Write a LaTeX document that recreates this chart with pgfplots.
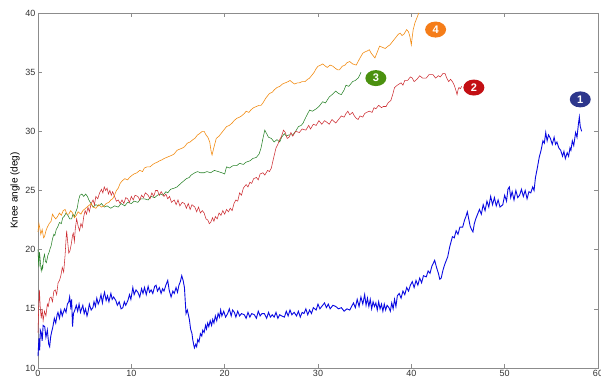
\documentclass[border=0pt]{standalone}
\usepackage{pgfplots}
\pgfplotsset{compat=1.18}
\usetikzlibrary{shapes.geometric}
\usepackage{fontspec}
\setmainfont{Liberation Sans}
\definecolor{cblue}{RGB}{10,10,225}
\definecolor{cred}{RGB}{205,45,50}
\definecolor{cgreen}{RGB}{40,130,40}
\definecolor{corange}{RGB}{242,140,20}
\definecolor{lblue}{RGB}{45,55,140}
\definecolor{lred}{RGB}{195,15,20}
\definecolor{lgreen}{RGB}{75,145,15}
\definecolor{lorange}{RGB}{245,125,25}
\definecolor{axgray}{RGB}{140,140,140}
\begin{document}
\begin{tikzpicture}
\begin{axis}[
  scale only axis, width=560pt, height=355pt,
  xmin=0, xmax=60, ymin=10, ymax=40,
  xtick={0,10,...,60}, ytick={10,15,...,40},
  tick align=inside, major tick length=4pt,
  axis line style={axgray, line width=0.8pt},
  tick style={axgray, line width=0.6pt},
  /pgf/number format/assume math mode=true,
  tick label style={font=\fontsize{9}{10}\selectfont, text=black!80},
  ylabel={Knee angle (deg)},
  ylabel style={font=\fontsize{10}{12}\selectfont, at={(axis description cs:-0.041,0.5)}, anchor=center, rotate=0},
  xticklabel style={yshift=1pt},
  yticklabel style={xshift=1pt},
  clip=false,
]
\addplot[cblue, line width=0.9pt] coordinates {
(0,11.0)(0.1,12.5)(0.18,11.5)(0.25,13.2)(0.35,13.0)(0.45,12.3)(0.55,13.6)(0.72,13.5)(0.85,12.6)(1.0,13.2)(1.15,12.0)(1.25,11.8)(1.35,12.6)(1.45,13.0)(1.6,13.5)(1.75,14.2)(1.9,13.8)(2.05,14.5)(2.14,14.7)(2.3,14.2)(2.45,14.9)(2.6,14.4)(2.67,14.6)(2.85,15.0)(3.0,14.7)(3.15,15.4)(3.3,15.6)(3.39,16.0)(3.5,15.2)(3.6,15.8)(3.7,13.5)(3.8,14.6)(3.95,14.9)(4.1,15.3)(4.25,14.8)(4.4,15.4)(4.55,14.7)(4.63,14.9)(4.8,15.3)(4.95,14.6)(5.1,15.0)(5.25,14.4)(5.35,14.7)(5.5,15.4)(5.7,14.9)(5.88,15.1)(6.0,15.6)(6.15,15.2)(6.3,15.9)(6.45,15.4)(6.6,15.7)(6.75,16.2)(6.9,15.5)(7.0,16.0)(7.13,16.4)(7.3,15.7)(7.45,16.1)(7.6,15.6)(7.81,16.3)(7.95,15.8)(8.1,16.0)(8.34,15.7)(8.5,15.3)(8.7,15.6)(8.9,15.0)(9.09,15.1)(9.25,15.6)(9.4,15.3)(9.63,15.7)(9.8,16.2)(9.95,15.8)(10.16,16.8)(10.3,16.2)(10.5,16.6)(10.7,16.4)(10.9,16.0)(11.1,16.7)(11.25,16.3)(11.41,16.8)(11.6,16.2)(11.8,16.9)(11.95,16.4)(12.12,16.6)(12.3,16.3)(12.5,16.9)(12.65,17.0)(12.8,16.5)(13.0,16.8)(13.19,16.3)(13.35,16.7)(13.5,16.5)(13.7,17.0)(13.9,17.4)(14.05,16.6)(14.26,16.0)(14.45,16.5)(14.6,16.3)(14.79,16.8)(14.95,16.4)(15.1,17.0)(15.25,17.3)(15.4,17.8)(15.55,17.4)(15.69,16.8)(15.78,15.6)(15.86,14.6)(16.0,14.9)(16.22,14.1)(16.35,13.3)(16.5,12.9)(16.58,12.4)(16.7,11.9)(16.76,11.7)(16.9,12.0)(17.0,11.8)(17.11,12.4)(17.25,12.2)(17.4,12.9)(17.55,12.7)(17.65,13.2)(17.8,13.0)(17.95,13.6)(18.05,13.3)(18.18,13.8)(18.3,13.5)(18.45,14.0)(18.6,13.6)(18.72,14.1)(18.85,13.8)(19.0,14.4)(19.15,14.0)(19.3,14.6)(19.45,14.3)(19.57,14.9)(19.7,14.4)(19.9,14.8)(20.1,14.3)(20.32,14.6)(20.5,15.0)(20.7,14.4)(20.85,14.9)(21.04,14.7)(21.2,14.3)(21.4,14.8)(21.6,14.4)(21.8,14.6)(22.1,14.5)(22.3,14.2)(22.5,14.7)(22.7,14.3)(22.9,14.6)(23.18,14.5)(23.4,14.2)(23.6,14.8)(23.8,14.4)(24.0,14.6)(24.25,14.6)(24.5,14.2)(24.7,14.7)(24.9,14.3)(25.1,14.5)(25.3,14.3)(25.5,14.7)(25.7,14.2)(25.9,14.5)(26.1,14.4)(26.4,14.3)(26.6,14.8)(26.8,14.4)(27.0,14.9)(27.2,14.5)(27.45,14.7)(27.7,14.4)(27.9,14.8)(28.1,14.3)(28.3,14.7)(28.5,14.6)(28.7,15.0)(28.9,14.5)(29.1,14.9)(29.3,14.6)(29.5,15.1)(29.8,14.9)(30.0,15.4)(30.2,15.0)(30.5,15.3)(30.7,15.5)(30.9,15.1)(31.1,15.4)(31.3,15.0)(31.6,15.3)(31.9,15.2)(32.2,15.0)(32.5,15.1)(32.8,14.8)(33.1,15.0)(33.4,14.9)(33.6,15.2)(33.8,15.5)(34.0,15.1)(34.2,15.8)(34.4,15.2)(34.6,16.0)(34.8,15.4)(35.0,16.2)(35.15,15.3)(35.3,15.9)(35.45,15.2)(35.6,15.8)(35.75,15.0)(35.9,15.6)(36.05,15.2)(36.2,15.5)(36.35,14.9)(36.5,15.6)(36.65,15.0)(36.8,15.4)(36.95,14.8)(37.1,15.4)(37.25,14.9)(37.4,15.3)(37.6,15.1)(37.75,14.8)(37.9,15.5)(38.05,15.0)(38.2,15.8)(38.35,15.2)(38.5,16.1)(38.7,16.3)(38.9,15.9)(39.1,16.5)(39.3,16.2)(39.5,16.8)(39.7,16.5)(39.9,17.0)(40.1,17.3)(40.3,16.8)(40.5,17.4)(40.7,17.0)(40.9,17.6)(41.1,17.2)(41.3,17.8)(41.6,17.7)(41.8,18.2)(42.0,18.0)(42.2,18.6)(42.5,19.1)(42.7,18.5)(42.9,18.0)(43.05,17.5)(43.2,17.6)(43.4,18.3)(43.6,18.8)(43.9,19.4)(44.1,20.2)(44.4,21.1)(44.6,21.0)(44.8,21.6)(45.0,21.3)(45.2,21.9)(45.5,21.9)(45.7,22.5)(45.85,22.8)(46.0,23.2)(46.15,22.6)(46.3,22.0)(46.45,21.7)(46.6,21.5)(46.75,22.2)(46.9,22.6)(47.1,23.0)(47.3,23.4)(47.5,23.0)(47.7,23.8)(47.9,23.3)(48.1,24.1)(48.3,23.6)(48.5,24.5)(48.7,23.8)(48.9,24.4)(49.1,23.7)(49.3,24.2)(49.5,23.6)(49.8,23.8)(50.0,24.6)(50.2,24.1)(50.35,25.1)(50.5,25.3)(50.65,24.4)(50.8,24.9)(51.0,24.2)(51.2,25.0)(51.4,24.4)(51.6,24.6)(51.8,25.1)(52.0,24.5)(52.2,25.0)(52.4,24.3)(52.6,24.9)(52.8,24.8)(53.0,25.3)(53.15,25.0)(53.3,26.1)(53.5,26.9)(53.7,27.8)(53.9,28.4)(54.1,29.2)(54.25,29.0)(54.4,29.9)(54.55,29.2)(54.7,29.7)(54.9,29.4)(55.1,28.9)(55.3,29.5)(55.45,28.9)(55.6,29.1)(55.8,28.6)(56.0,28.4)(56.2,27.9)(56.35,28.3)(56.5,27.7)(56.7,28.2)(56.85,27.9)(57.0,28.6)(57.1,28.4)(57.25,29.2)(57.4,28.8)(57.6,29.9)(57.75,29.5)(57.9,30.6)(58.0,31.2)(58.1,30.4)(58.25,30.0)
};
\addplot[cgreen, line width=0.55pt] coordinates {
(0,20.0)(0.05,19.0)(0.1,18.5)(0.15,19.8)(0.2,19.5)(0.28,18.7)(0.35,18.2)(0.45,18.6)(0.5,18.4)(0.6,19.3)(0.7,19.6)(0.8,19.0)(0.9,18.9)(1.05,19.5)(1.2,19.8)(1.3,20.1)(1.4,20.3)(1.55,20.9)(1.7,21.3)(1.8,21.2)(1.95,21.7)(2.1,21.9)(2.3,22.3)(2.5,22.2)(2.65,22.7)(2.8,22.8)(3.0,23.1)(3.2,22.9)(3.4,22.6)(3.6,22.6)(3.75,23.0)(3.9,22.8)(4.05,23.2)(4.2,23.5)(4.35,24.2)(4.5,24.6)(4.7,24.7)(4.9,24.5)(5.1,24.7)(5.3,24.5)(5.45,24.2)(5.6,24.0)(5.75,23.8)(5.9,23.6)(6.2,23.8)(6.5,23.7)(6.8,23.9)(7.1,23.6)(7.4,23.7)(7.8,23.5)(8.2,23.7)(8.6,23.6)(8.9,23.9)(9.3,23.7)(9.6,24.0)(10.0,23.9)(10.3,24.1)(10.7,24.0)(11.0,24.3)(11.4,24.3)(11.8,24.2)(12.1,24.5)(12.5,24.4)(12.8,24.6)(13.1,24.7)(13.4,24.6)(13.7,24.9)(13.9,24.8)(14.2,25.1)(14.6,25.2)(14.9,25.3)(15.3,25.6)(15.6,25.8)(15.9,26.0)(16.2,26.1)(16.4,26.3)(16.8,26.5)(17.1,26.6)(17.4,26.5)(17.8,26.5)(18.1,26.6)(18.5,26.5)(18.9,26.7)(19.3,26.6)(19.7,26.5)(20.0,26.4)(20.2,27.0)(20.5,26.9)(20.9,27.1)(21.3,27.1)(21.6,27.3)(22.0,27.2)(22.3,27.4)(22.7,27.5)(23.0,27.7)(23.4,27.8)(23.7,28.1)(23.9,28.6)(24.1,29.4)(24.3,30.1)(24.5,29.8)(24.7,29.5)(25.0,29.4)(25.3,29.1)(25.6,29.3)(25.9,29.1)(26.1,29.5)(26.4,29.8)(26.6,29.6)(26.9,29.7)(27.3,29.7)(27.6,30.0)(27.9,30.4)(28.2,30.5)(28.4,30.7)(28.7,31.2)(28.9,31.5)(29.1,31.8)(29.4,31.7)(29.8,31.9)(30.1,32.1)(30.5,32.5)(30.8,32.4)(31.2,32.9)(31.5,33.1)(31.9,33.4)(32.2,33.2)(32.5,33.1)(32.8,33.5)(33.0,33.9)(33.3,33.8)(33.7,34.2)(34.0,34.3)(34.3,34.5)(34.5,34.8)(34.6,35.0)
};
\addplot[cred, line width=0.55pt] coordinates {
(0,13.0)(0.08,15.2)(0.15,16.6)(0.25,15.0)(0.35,14.2)(0.45,15.0)(0.55,14.0)(0.7,14.8)(0.85,14.4)(1.0,15.4)(1.1,15.2)(1.25,15.9)(1.4,16.0)(1.55,15.6)(1.7,16.5)(1.85,16.6)(2.0,16.2)(2.15,17.2)(2.3,17.4)(2.45,17.8)(2.6,18.5)(2.75,18.1)(2.9,19.5)(3.0,20.8)(3.07,21.6)(3.2,20.5)(3.3,19.7)(3.42,19.9)(3.55,20.4)(3.7,21.2)(3.78,21.4)(3.9,20.7)(4.0,21.8)(4.14,22.6)(4.3,22.0)(4.45,21.6)(4.6,22.2)(4.75,21.9)(4.9,22.8)(5.05,23.3)(5.2,23.0)(5.35,23.6)(5.5,23.2)(5.7,23.9)(5.9,24.2)(6.05,23.8)(6.2,24.5)(6.4,24.3)(6.6,24.8)(6.8,25.1)(6.95,24.8)(7.1,25.3)(7.25,25.0)(7.4,25.2)(7.55,24.7)(7.7,25.0)(7.85,24.6)(8.0,24.9)(8.2,24.5)(8.4,24.1)(8.6,24.2)(8.8,23.9)(9.0,24.2)(9.2,23.9)(9.4,24.4)(9.6,24.3)(9.8,24.0)(10.0,24.5)(10.2,24.2)(10.4,24.6)(10.7,24.5)(10.9,24.2)(11.1,24.6)(11.3,24.4)(11.5,24.8)(11.8,24.6)(12.0,24.3)(12.2,24.8)(12.4,24.5)(12.6,25.0)(12.8,25.0)(13.0,24.6)(13.2,24.9)(13.5,24.5)(13.7,24.7)(13.9,24.3)(14.1,24.5)(14.3,24.0)(14.6,24.2)(14.8,23.8)(15.0,24.2)(15.2,23.7)(15.45,24.0)(15.7,23.9)(15.9,23.5)(16.1,23.9)(16.3,23.4)(16.5,23.8)(16.8,23.6)(17.0,23.2)(17.2,23.6)(17.4,23.1)(17.6,23.3)(17.8,23.1)(18.0,22.6)(18.2,22.5)(18.35,22.2)(18.5,22.3)(18.7,22.7)(18.85,22.4)(19.0,22.8)(19.2,22.6)(19.4,23.1)(19.6,22.9)(19.8,23.3)(20.0,23.0)(20.2,23.4)(20.4,23.2)(20.6,23.5)(20.8,23.3)(21.0,23.9)(21.2,24.2)(21.4,24.1)(21.6,24.8)(21.8,24.6)(22.0,25.2)(22.3,25.5)(22.5,25.3)(22.7,25.7)(22.9,25.6)(23.1,26.0)(23.4,26.1)(23.6,25.9)(23.8,26.4)(24.1,26.5)(24.3,26.3)(24.6,26.7)(24.8,26.6)(25.0,26.9)(25.2,27.6)(25.35,28.1)(25.5,28.6)(25.7,28.9)(25.9,29.3)(26.1,29.6)(26.3,30.1)(26.5,29.9)(26.7,29.4)(26.9,29.5)(27.1,29.9)(27.3,29.6)(27.6,30.0)(28.0,29.9)(28.3,30.2)(28.7,30.1)(29.0,30.5)(29.2,30.2)(29.5,30.6)(29.8,30.5)(30.1,30.9)(30.4,30.6)(30.7,30.9)(30.9,30.8)(31.2,30.6)(31.5,31.0)(31.9,30.7)(32.2,31.0)(32.5,31.3)(32.8,31.2)(33.0,31.5)(33.2,31.7)(33.4,31.4)(33.7,31.6)(33.9,31.3)(34.1,31.1)(34.3,31.0)(34.5,31.3)(34.8,31.2)(35.0,31.5)(35.2,31.6)(35.5,31.7)(35.8,31.6)(36.0,32.0)(36.2,31.9)(36.5,32.2)(36.8,32.0)(37.0,32.1)(37.3,32.1)(37.5,32.4)(37.8,32.6)(38.0,33.1)(38.2,33.7)(38.5,33.9)(38.9,34.1)(39.1,33.9)(39.3,34.3)(39.6,34.3)(39.9,34.6)(40.1,34.5)(40.3,34.2)(40.6,34.4)(40.9,34.7)(41.2,34.5)(41.6,34.5)(41.9,34.8)(42.3,34.8)(42.6,34.5)(42.9,34.7)(43.1,34.6)(43.4,34.9)(43.6,34.9)(43.8,34.5)(44.0,34.2)(44.2,34.4)(44.4,34.2)(44.6,33.9)(44.8,33.4)(44.9,33.1)(45.0,33.5)(45.1,33.7)(45.25,33.6)(45.4,33.8)
};
\addplot[corange, line width=0.6pt] coordinates {
(0,21.5)(0.1,22.2)(0.2,21.8)(0.3,21.3)(0.45,21.7)(0.6,21.0)(0.7,21.1)(0.85,21.6)(1.0,21.9)(1.2,22.2)(1.4,22.4)(1.55,23.0)(1.7,22.8)(1.9,22.6)(2.1,22.8)(2.3,23.1)(2.5,22.9)(2.7,23.3)(2.9,23.4)(3.1,23.0)(3.3,23.0)(3.5,23.3)(3.7,23.1)(3.9,22.7)(4.1,22.9)(4.3,23.2)(4.6,23.0)(4.8,23.3)(5.1,23.5)(5.4,23.7)(5.7,23.9)(5.9,23.6)(6.2,23.5)(6.5,23.8)(6.8,23.6)(7.1,23.7)(7.3,23.9)(7.6,24.0)(7.8,24.2)(8.0,24.3)(8.2,24.6)(8.4,25.0)(8.6,25.2)(8.8,25.6)(9.0,25.8)(9.3,26.0)(9.6,25.9)(9.8,26.1)(10.1,26.3)(10.3,26.4)(10.6,26.5)(10.9,26.7)(11.2,26.6)(11.4,26.9)(11.7,27.0)(12.0,27.0)(12.3,27.2)(12.5,27.3)(12.8,27.4)(13.0,27.5)(13.3,27.6)(13.5,27.7)(13.8,27.8)(14.1,27.9)(14.4,28.0)(14.6,28.1)(14.9,28.4)(15.2,28.5)(15.5,28.6)(15.7,28.7)(16.0,29.0)(16.3,29.1)(16.6,29.3)(16.8,29.4)(17.1,29.7)(17.3,29.8)(17.6,30.0)(17.8,30.0)(18.0,29.7)(18.2,29.5)(18.4,29.1)(18.55,28.3)(18.65,28.0)(18.8,28.5)(19.0,29.1)(19.1,29.4)(19.4,29.6)(19.6,29.8)(19.9,30.1)(20.2,30.4)(20.5,30.5)(20.8,30.7)(21.0,30.9)(21.3,31.1)(21.6,31.2)(21.8,31.3)(22.1,31.5)(22.3,31.7)(22.6,31.6)(22.8,31.8)(23.1,32.0)(23.4,32.1)(23.7,32.2)(23.9,32.2)(24.1,32.4)(24.4,32.8)(24.6,33.0)(24.8,33.2)(25.1,33.3)(25.3,33.5)(25.6,33.7)(25.9,33.8)(26.2,34.0)(26.5,34.1)(26.8,34.2)(27.0,34.3)(27.3,34.1)(27.5,34.0)(27.8,34.1)(28.0,34.1)(28.3,34.2)(28.6,34.2)(28.9,34.4)(29.1,34.5)(29.4,34.8)(29.6,35.0)(29.8,35.3)(30.0,35.5)(30.3,35.6)(30.5,35.7)(30.8,35.5)(31.0,35.4)(31.3,35.6)(31.6,35.5)(31.9,35.3)(32.1,35.2)(32.3,35.2)(32.6,35.5)(32.9,35.6)(33.1,35.8)(33.4,35.9)(33.7,35.7)(34.1,35.6)(34.3,35.9)(34.5,36.2)(34.8,36.6)(35.0,36.7)(35.3,36.8)(35.5,36.9)(35.7,36.6)(35.9,36.4)(36.1,36.2)(36.3,36.6)(36.6,37.2)(36.9,37.1)(37.2,37.0)(37.5,37.2)(37.7,37.3)(38.0,37.6)(38.3,37.9)(38.6,38.2)(38.8,38.3)(39.0,38.1)(39.2,38.2)(39.5,38.6)(39.7,38.4)(39.85,38.0)(40.0,37.3)(40.1,38.0)(40.2,38.6)(40.4,39.2)(40.6,39.6)(40.8,40.0)
};
\tikzset{lab/.style={ellipse, inner sep=0pt, minimum width=21pt, minimum height=16pt, text=white, font=\bfseries\fontsize{11}{12}\selectfont}}
\node[lab, fill=lblue] at (axis cs:58.1,32.7) {1};
\node[lab, fill=lred] at (axis cs:46.7,33.7) {2};
\node[lab, fill=lgreen] at (axis cs:36.2,34.5) {3};
\node[lab, fill=lorange] at (axis cs:42.6,38.6) {4};
\end{axis}
\pgfresetboundingbox
\path[use as bounding box] (current axis.south west) ++(-38pt,-12pt) rectangle ([xshift=3pt,yshift=13pt]current axis.north east);
\end{tikzpicture}
\end{document}
